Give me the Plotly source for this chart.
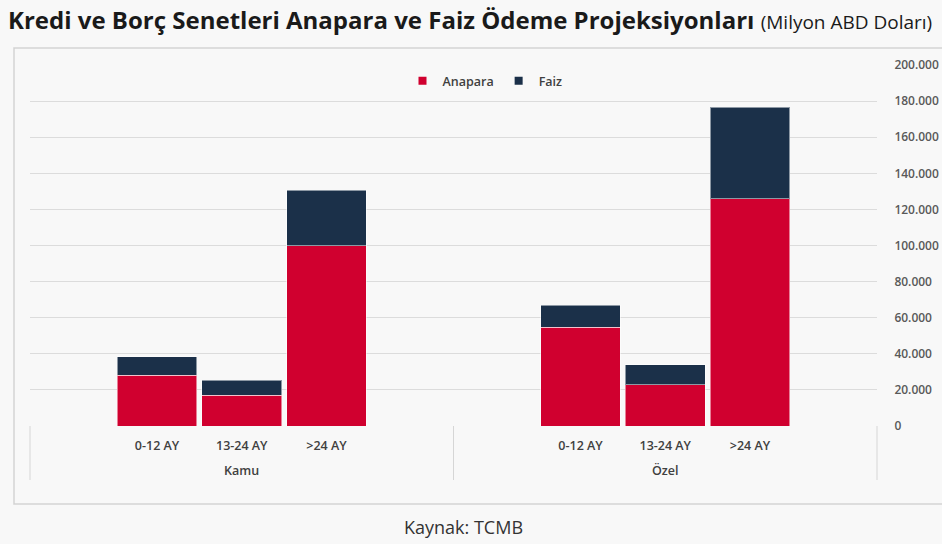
import plotly.graph_objects as go

# ---- data ----
segments = ["0-12 AY", "13-24 AY", ">24 AY"]
groups = ["Kamu", "Özel"]
kamu_anapara = [28000, 17000, 100000]
kamu_faiz = [10500, 8400, 30500]
ozel_anapara = [54700, 22800, 125900]
ozel_faiz = [12200, 11100, 50700]
y_ticks = [0, 20000, 40000, 60000, 80000, 100000, 120000, 140000, 160000, 180000, 200000]

RED = "#d0002f"
NAVY = "#1b3049"
FONT = "Open Sans"
EDGE = dict(color="rgba(255,255,255,0.5)", width=1)

fig = go.Figure()
fig.add_bar(x=segments, y=kamu_anapara, name="Anapara", marker=dict(color=RED, line=EDGE),
            showlegend=False, xaxis="x", yaxis="y")
fig.add_bar(x=segments, y=kamu_faiz, name="Faiz", marker=dict(color=NAVY, line=EDGE),
            showlegend=False, xaxis="x", yaxis="y")
fig.add_bar(x=segments, y=ozel_anapara, name="Anapara", marker=dict(color=RED, line=EDGE),
            showlegend=False, xaxis="x2", yaxis="y2")
fig.add_bar(x=segments, y=ozel_faiz, name="Faiz", marker=dict(color=NAVY, line=EDGE),
            showlegend=False, xaxis="x2", yaxis="y2")
# legend entries (small square keys)
for nm, col in [("Anapara", RED), ("Faiz", NAVY)]:
    fig.add_scatter(x=[None], y=[None], mode="markers", name=nm,
                    marker=dict(symbol="square", size=8, color=col), xaxis="x", yaxis="y")

L, R, T, B = 30, 877, 65, 426
W, H = 942, 544
ph = B - T
pw = R - L

xcommon = dict(type="category", range=[-1.5, 3.5], showgrid=False, zeroline=False, showline=False,
               ticks="outside", ticklen=8, tickcolor="rgba(0,0,0,0)",
               tickfont=dict(family=FONT, size=12.5, color="#404040", weight=600), fixedrange=True)
ycommon = dict(range=[0, 200000], tickvals=y_ticks, tickformat=",d", showgrid=True, gridcolor="#dcdcdc",
               gridwidth=1, zeroline=False, showline=False, fixedrange=True)

fig.update_layout(
    width=W, height=H,
    margin=dict(l=L, r=W - R, t=T, b=H - B, autoexpand=False),
    paper_bgcolor="#f8f8f8", plot_bgcolor="#f8f8f8",
    barmode="stack", bargap=0.06,
    separators=",.",
    font=dict(family=FONT, color="#404040"),
    xaxis=dict(domain=[0, 0.5], anchor="y", **xcommon),
    xaxis2=dict(domain=[0.5, 1], anchor="y2", **xcommon),
    yaxis=dict(anchor="x", showticklabels=False, **ycommon),
    yaxis2=dict(anchor="x2", matches="y", side="right", showticklabels=True, ticks="outside", ticklen=14,
                tickcolor="rgba(0,0,0,0)", tickfont=dict(family=FONT, size=12, color="#595959", weight=600),
                **ycommon),
    legend=dict(orientation="h", x=(485 - L) / pw, xanchor="center", y=(B - 81) / ph, yanchor="middle",
                bgcolor="rgba(0,0,0,0)", font=dict(family=FONT, size=12.5, color="#404040", weight=600),
                itemwidth=30, traceorder="normal", tracegroupgap=0),
    title=dict(
        text="<b>Kredi ve Borç Senetleri Anapara ve Faiz Ödeme Projeksiyonları</b>"
             " <span style='font-size:19px;font-weight:normal'>(Milyon ABD Doları)</span>",
        x=8 / W, xanchor="left", xref="container", y=1 - 21 / H, yanchor="middle", yref="container",
        font=dict(family=FONT, size=24, color="#1a1a1a")),
    showlegend=True,
)

# group labels
for i, g in enumerate(groups):
    fig.add_annotation(text=g, xref="paper", yref="paper", x=0.25 + 0.5 * i, y=-(471 - B) / ph,
                       xanchor="center", yanchor="middle", showarrow=False,
                       font=dict(family=FONT, size=12.5, color="#404040", weight=600))

# dividers
for xv in [0, 0.5, 1]:
    fig.add_shape(type="line", xref="paper", yref="paper", x0=xv, x1=xv, y0=0, y1=-(480 - B) / ph,
                  line=dict(color="#d6d6d6", width=1))

# chart border box
fig.add_shape(type="rect", xref="paper", yref="paper", x0=(14 - L) / pw, x1=(960 - L) / pw,
              y0=-(504 - B) / ph, y1=(B - 48) / ph, line=dict(color="#d3d3d3", width=1.5),
              fillcolor="rgba(0,0,0,0)", layer="below")

# source
fig.add_annotation(text="Kaynak: TCMB", xref="paper", yref="paper", x=(463 - L) / pw, y=-(527 - B) / ph,
                   xanchor="center", yanchor="middle", showarrow=False,
                   font=dict(family=FONT, size=18, color="#333333"))

fig.write_html("out.html", config={"displayModeBar": False},
               post_script="document.body.style.margin='0';document.body.style.overflow='hidden';")
